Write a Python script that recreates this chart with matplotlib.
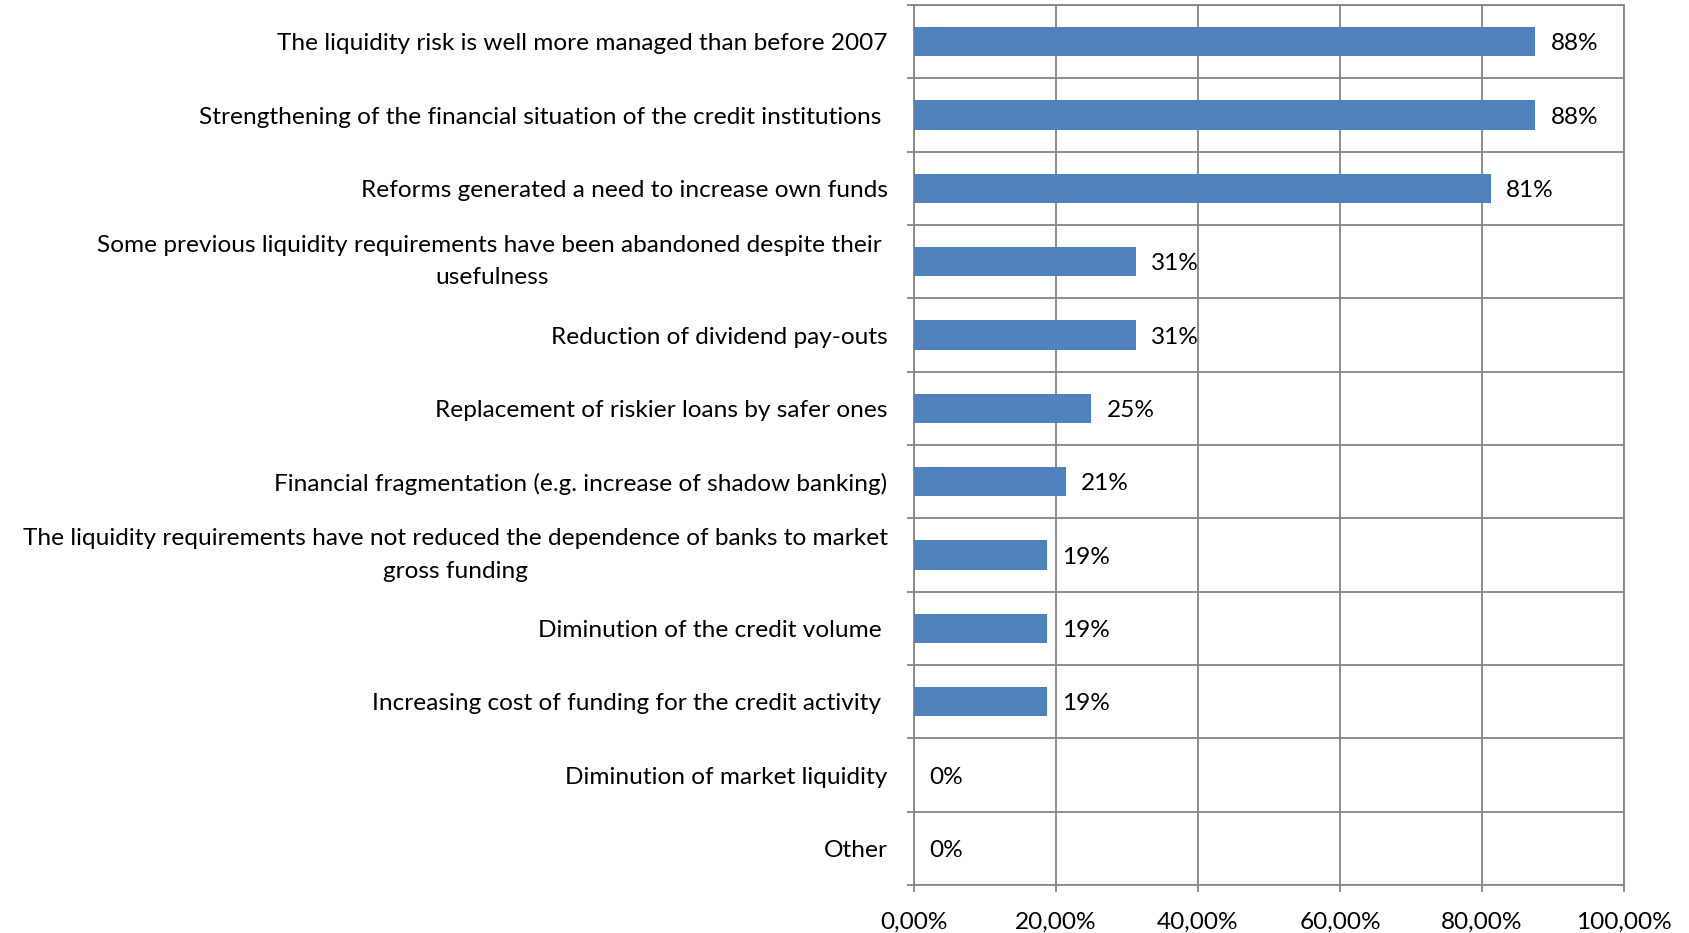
import matplotlib
matplotlib.use("Agg")
import matplotlib.pyplot as plt
from matplotlib.ticker import FuncFormatter, MultipleLocator

# Survey answers, top to bottom
labels = [
    "The liquidity risk is well more managed than before 2007",
    "Strengthening of the financial situation of the credit institutions ",
    "Reforms generated a need to increase own funds",
    "Some previous liquidity requirements have been abandoned despite their \nusefulness",
    "Reduction of dividend pay-outs",
    "Replacement of riskier loans by safer ones",
    "Financial fragmentation (e.g. increase of shadow banking)",
    "The liquidity requirements have not reduced the dependence of banks to market\ngross funding",
    "Diminution of the credit volume ",
    "Increasing cost of funding for the credit activity ",
    "Diminution of market liquidity",
    "Other",
]
shares = [0.875, 0.875, 0.8125, 0.3125, 0.3125, 0.25, 0.214, 0.1875, 0.1875, 0.1875, 0.0, 0.0]

BAR_COLOR = "#4F81BD"
GRID_COLOR = "#868686"
FONT = "Lato"
FS = 17.6

plt.rcParams["font.family"] = [FONT, "DejaVu Sans"]

fig = plt.figure(figsize=(16.9, 9.33), dpi=100)
ax = fig.add_axes([914 / 1690, 48 / 933, 710 / 1690, 880 / 933])

ypos = list(range(len(labels)))
ax.barh(ypos, shares, height=0.4, color=BAR_COLOR, zorder=3)

for y, v in zip(ypos, shares):
    ax.annotate(f"{v:.0%}", xy=(v, y), xytext=(11, 0), textcoords="offset points",
                ha="left", va="center_baseline", fontsize=FS, color="black")

ax.set_xlim(0, 1)
ax.set_ylim(len(labels) - 0.5, -0.5)

ax.xaxis.set_major_locator(MultipleLocator(0.2))
ax.xaxis.set_major_formatter(FuncFormatter(lambda x, _: f"{x * 100:.2f}%".replace(".", ",")))
ax.set_yticks(ypos)
ax.set_yticklabels(labels, fontsize=FS, multialignment="center", linespacing=1.65)
# wrapped labels sit centred on their bar
for lbl in ax.get_yticklabels():
    if "\n" in lbl.get_text():
        lbl.set_verticalalignment("center")
ax.set_yticks([k + 0.5 for k in range(-1, len(labels))], minor=True)

ax.tick_params(axis="y", which="major", length=0, pad=19)
ax.tick_params(axis="y", which="minor", length=5, width=1.3, color=GRID_COLOR, direction="out")
ax.tick_params(axis="x", which="major", length=5, width=1.3, color=GRID_COLOR,
               direction="out", pad=14, labelsize=FS)

ax.grid(axis="x", which="major", color=GRID_COLOR, linewidth=1.3, zorder=0)
ax.grid(axis="y", which="minor", color=GRID_COLOR, linewidth=1.3, zorder=0)
ax.set_axisbelow(True)

for side in ("left", "right", "top", "bottom"):
    ax.spines[side].set_color(GRID_COLOR)
    ax.spines[side].set_linewidth(1.3)

fig.savefig("out.png", dpi=100, facecolor="white")
